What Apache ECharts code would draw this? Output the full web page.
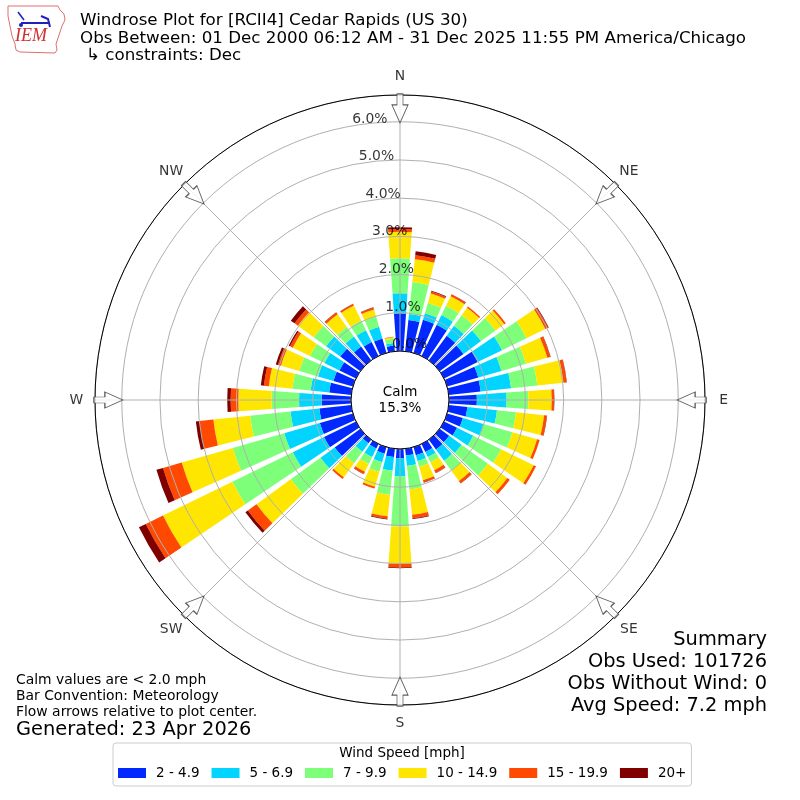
<!DOCTYPE html>
<html>
<head>
<meta charset="utf-8">
<script src="https://cdn.jsdelivr.net/npm/echarts@6/dist/echarts.min.js"></script>
<style>
html,body{margin:0;padding:0;background:#fff;}
#chart{width:800px;height:800px;}
</style>
</head>
<body>
<div id="chart"></div>
<script>
// ---- data (percent of observations) ----
const directions = ['0','10','20','30','40','50','60','70','80','90','100','110','120','130','140','150','160','170',
                    '180','190','200','210','220','230','240','250','260','270','280','290','300','310','320','330','340','350'];
const speedBins = ['2 - 4.9', '5 - 6.9', '7 - 9.9', '10 - 14.9', '15 - 19.9', '20+'];
const binColors = ['#0028ff', '#00d4ff', '#7dff7a', '#ffe600', '#ff4800', '#800000'];

const speed2to5 = [0.99,0.82,0.90,0.91,0.80,0.77,0.98,0.85,0.84,0.73,0.49,0.43,0.38,0.31,0.32,0.23,0.22,0.18,
                   0.24,0.22,0.18,0.13,0.12,0.83,0.93,0.90,0.84,0.77,0.58,0.53,0.48,0.65,0.45,0.41,0.39,0.15];
const speed5to7 = [0.52,0.16,0.18,0.28,0.32,0.57,0.71,0.63,0.80,0.78,0.78,0.56,0.47,0.40,0.36,0.15,0.16,0.27,
                   0.48,0.36,0.23,0.25,0.27,0.46,0.91,0.97,0.76,0.59,0.49,0.42,0.44,0.46,0.32,0.34,0.32,0.07];
const speed7to10 = [0.92,0.84,0.28,0.27,0.34,0.47,0.71,0.67,0.69,0.57,0.50,0.79,0.81,0.85,0.32,0.15,0.16,0.62,
                    1.31,0.63,0.26,0.20,0.37,0.96,1.76,1.40,1.06,0.72,0.48,0.51,0.42,0.40,0.32,0.28,0.28,0.11];
const speed10to15 = [0.69,0.60,0.26,0.28,0.24,0.28,0.55,0.58,0.69,0.61,0.74,0.67,0.95,0.63,0.34,0.23,0.36,0.67,
                     0.98,0.57,0.41,0.23,0.46,1.11,2.02,1.39,0.97,0.87,0.62,0.50,0.50,0.51,0.40,0.44,0.19,0.04];
const speed15to20 = [0.07,0.11,0.05,0.05,0.04,0.05,0.08,0.08,0.08,0.06,0.07,0.07,0.07,0.08,0.07,0.08,0.06,0.09,
                     0.09,0.06,0.05,0.06,0.05,0.28,0.50,0.51,0.36,0.20,0.13,0.08,0.08,0.11,0.06,0.04,0.05,0.01];
const speed20plus = [0.05,0.10,0.02,0.01,0.00,0.00,0.02,0.01,0.01,0.01,0.01,0.00,0.00,0.00,0.01,0.01,0.01,0.02,
                     0.02,0.02,0.00,0.01,0.00,0.08,0.20,0.18,0.10,0.09,0.08,0.06,0.04,0.12,0.01,0.01,0.01,0.00];
const binValues = [speed2to5, speed5to7, speed7to10, speed10to15, speed15to20, speed20plus];

const radialTicks = [0, 1, 2, 3, 4, 5, 6];
const radialTickLabels = ['0.0%', '1.0%', '2.0%', '3.0%', '4.0%', '5.0%', '6.0%'];
const compassAngles = [0, 45, 90, 135, 180, 225, 270, 315];
const compassLabels = ['N', 'NE', 'E', 'SE', 'S', 'SW', 'W', 'NW'];
const radiusMax = 6.7;
const calmPercent = '15.3%';

const titleLines = [
  'Windrose Plot for [RCII4] Cedar Rapids (US 30)',
  'Obs Between: 01 Dec 2000 06:12 AM - 31 Dec 2025 11:55 PM America/Chicago',
  '\u21b3 constraints: Dec'
];
const noteLines = ['Calm values are < 2.0 mph', 'Bar Convention: Meteorology', 'Flow arrows relative to plot center.'];
const generatedText = 'Generated: 23 Apr 2026';
const summaryLines = ['Summary', 'Obs Used: 101726', 'Obs Without Wind: 0', 'Avg Speed: 7.2 mph'];
const legendTitle = 'Wind Speed [mph]';

// ---- chart ----
const FONT = '"DejaVu Sans", sans-serif';
const chart = echarts.init(document.getElementById('chart'), null, {renderer: 'canvas'});

const barSeries = speedBins.map((name, i) => ({
  type: 'bar', name: name, coordinateSystem: 'polar', polarIndex: 0,
  stack: 'wind', data: binValues[i], barCategoryGap: '20%',
  itemStyle: {color: binColors[i]}, z: 2, silent: true
}));

const arrowPath = 'path://M5,0L11,0L11,11L16,11L8,29L0,11L5,11Z';

const option = {
  animation: false,
  backgroundColor: '#fff',
  polar: [
    {center: [400, 400], radius: [49, 305]},
    {center: [400, 400], radius: [49, 305]}
  ],
  angleAxis: [
    {polarIndex: 0, type: 'category', data: directions, startAngle: 95, clockwise: true, boundaryGap: true,
     axisLine: {show: false}, axisTick: {show: false}, axisLabel: {show: false}, splitLine: {show: false}},
    {polarIndex: 1, type: 'value', min: 0, max: 360, interval: 45, startAngle: 90, clockwise: true, z: 11,
     axisLine: {show: true, lineStyle: {color: '#000', width: 1}},
     axisTick: {show: false}, axisLabel: {show: false},
     splitLine: {show: true, lineStyle: {color: '#b0b0b0', width: 1}}}
  ],
  radiusAxis: [
    {polarIndex: 0, type: 'value', min: 0, max: radiusMax,
     axisLine: {show: false}, axisTick: {show: false}, axisLabel: {show: false}, splitLine: {show: false}},
    {polarIndex: 1, type: 'value', min: 0, max: radiusMax, interval: 1, z: 10,
     axisLine: {show: false}, axisTick: {show: false}, axisLabel: {show: false},
     splitLine: {show: true, lineStyle: {color: '#b0b0b0', width: 1}}}
  ],
  legend: {
    data: speedBins, left: 113, top: 743, orient: 'horizontal',
    icon: 'rect', itemWidth: 28, itemHeight: 10, itemGap: 12,
    textStyle: {fontSize: 13.5, fontFamily: FONT, color: '#000', padding: [0, 0, 0, 5]},
    padding: [23, 5, 6, 5], borderColor: '#cccccc', borderWidth: 1, borderRadius: 3,
    backgroundColor: '#fff', selectedMode: false
  },
  series: barSeries.concat([
    {
      type: 'scatter', coordinateSystem: 'polar', polarIndex: 1, clip: false, silent: true, z: 20,
      data: radialTicks.map((v, i) => ({value: [v, 350], name: radialTickLabels[i]})),
      symbolSize: 1, itemStyle: {color: 'rgba(0,0,0,0)'},
      label: {show: true, position: 'right', distance: 0, offset: [0, -7], formatter: p => p.name,
              fontSize: 13.9, fontFamily: FONT, color: '#000'}
    },
    {
      type: 'scatter', coordinateSystem: 'polar', polarIndex: 1, clip: false, silent: true, z: 20,
      data: compassAngles.map((a, i) => ({value: [7.19, a], name: compassLabels[i]})),
      symbolSize: 1, itemStyle: {color: 'rgba(0,0,0,0)'},
      label: {show: true, position: 'inside', formatter: p => p.name,
              fontSize: 13.9, fontFamily: FONT, color: '#000'}
    },
    {
      type: 'scatter', coordinateSystem: 'polar', polarIndex: 1, clip: false, silent: true, z: 21,
      data: compassAngles.map(a => ({value: [6.35, a], symbolRotate: -a})),
      symbol: arrowPath, symbolSize: [16, 29], symbolKeepAspect: false,
      itemStyle: {color: '#ffffff', borderColor: '#333333', borderWidth: 1}
    }
  ]),
  graphic: [
    // IEM logo (simplified)
    {type: 'polygon', shape: {points: [[8,6],[58,6],[60,10],[64,14],[65,20],[62,26],[60,32],[58,38],[56,44],[57,50],[55,53],[20,52],[16,50],[15,44],[12,36],[10,26],[8,16]]},
     style: {fill: 'none', stroke: '#e07070', lineWidth: 1}},
    {type: 'polyline', shape: {points: [[21,23],[50,23]]}, style: {stroke: '#2020c0', lineWidth: 2}},
    {type: 'polyline', shape: {points: [[18,12],[24,20]]}, style: {stroke: '#2020c0', lineWidth: 1.5}},
    {type: 'polyline', shape: {points: [[41,16],[48,19],[50,27]]}, style: {stroke: '#2020c0', lineWidth: 2}},
    {type: 'circle', shape: {cx: 21, cy: 25, r: 2}, style: {fill: '#2020c0'}},
    {type: 'text', x: 15, y: 36, style: {text: 'IEM', font: 'italic 18px "Liberation Serif", serif', fill: '#d03030', align: 'left', verticalAlign: 'middle'}},
    // titles
    {type: 'text', x: 80, y: 21, style: {text: titleLines[0], font: '16.7px ' + FONT, fill: '#000', align: 'left', verticalAlign: 'middle'}},
    {type: 'text', x: 80, y: 39, style: {text: titleLines[1], font: '16.7px ' + FONT, fill: '#000', align: 'left', verticalAlign: 'middle'}},
    {type: 'text', x: 86, y: 56, style: {text: titleLines[2], font: '16.7px ' + FONT, fill: '#000', align: 'left', verticalAlign: 'middle'}},
    // calm
    {type: 'text', x: 400, y: 392, z: 30, style: {text: 'Calm', font: '13.5px ' + FONT, fill: '#000', align: 'center', verticalAlign: 'middle'}},
    {type: 'text', x: 400, y: 408, z: 30, style: {text: calmPercent, font: '13.5px ' + FONT, fill: '#000', align: 'center', verticalAlign: 'middle'}},
    // notes
    {type: 'text', x: 16, y: 680, style: {text: noteLines[0], font: '13.9px ' + FONT, fill: '#000', align: 'left', verticalAlign: 'middle'}},
    {type: 'text', x: 16, y: 696, style: {text: noteLines[1], font: '13.9px ' + FONT, fill: '#000', align: 'left', verticalAlign: 'middle'}},
    {type: 'text', x: 16, y: 712, style: {text: noteLines[2], font: '13.9px ' + FONT, fill: '#000', align: 'left', verticalAlign: 'middle'}},
    {type: 'text', x: 16, y: 730, style: {text: generatedText, font: '19.4px ' + FONT, fill: '#000', align: 'left', verticalAlign: 'middle'}},
    // summary
    {type: 'text', x: 767, y: 640, style: {text: summaryLines[0], font: '19.4px ' + FONT, fill: '#000', align: 'right', verticalAlign: 'middle'}},
    {type: 'text', x: 767, y: 662, style: {text: summaryLines[1], font: '19.4px ' + FONT, fill: '#000', align: 'right', verticalAlign: 'middle'}},
    {type: 'text', x: 767, y: 684, style: {text: summaryLines[2], font: '19.4px ' + FONT, fill: '#000', align: 'right', verticalAlign: 'middle'}},
    {type: 'text', x: 767, y: 706, style: {text: summaryLines[3], font: '19.4px ' + FONT, fill: '#000', align: 'right', verticalAlign: 'middle'}},
    // legend title
    {type: 'text', x: 402, y: 753, z: 100, style: {text: legendTitle, font: '13.5px ' + FONT, fill: '#000', align: 'center', verticalAlign: 'middle'}}
  ]
};
chart.setOption(option);
</script>
</body>
</html>
